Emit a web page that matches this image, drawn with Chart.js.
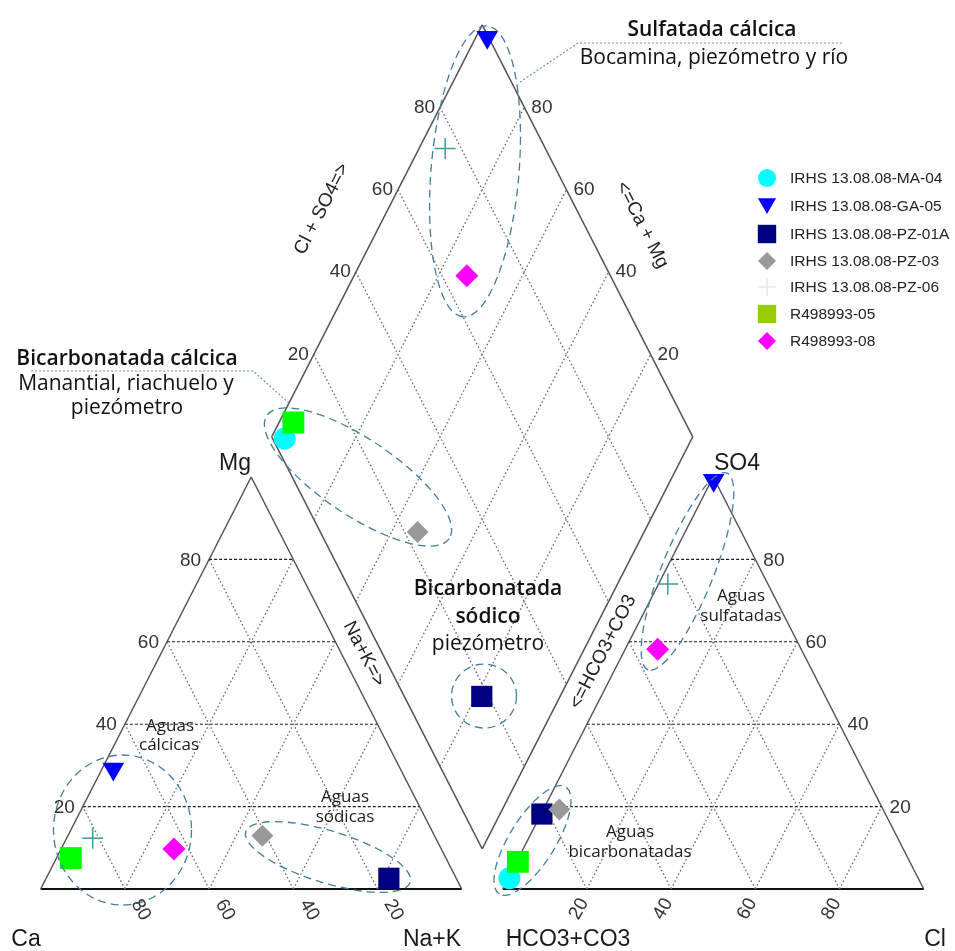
<!DOCTYPE html>
<html>
<head>
<meta charset="utf-8">
<script src="https://cdn.jsdelivr.net/npm/chart.js@4.4.1/dist/chart.umd.min.js"></script>
<style>
  html, body { margin: 0; padding: 0; background: #ffffff; }
  #wrap { position: relative; width: 955px; height: 951px; }
</style>
</head>
<body>
<div id="wrap"><canvas id="piper" width="955" height="951"></canvas></div>
<script>
// ---- Samples (percent of meq/L) ----
const SAMPLE_NAMES = ['IRHS 13.08.08-MA-04', 'IRHS 13.08.08-GA-05', 'IRHS 13.08.08-PZ-01A',
                      'IRHS 13.08.08-PZ-03', 'IRHS 13.08.08-PZ-06', 'R498993-05', 'R498993-08'];
// cations
const CA   = [89.3, 68.2, 16.0, 40.9, 81.5, 89.1, 63.5];
const MG   = [ 7.4, 29.1,  2.6, 12.9, 12.3,  7.5,  9.7];
const NAK  = [ 3.3,  2.7, 81.4, 46.2,  6.2,  3.4, 26.8];
// anions
const HCO3 = [97.1,  0.3, 81.6, 76.9, 23.8, 93.1, 34.1];
const SO4  = [ 2.6, 99.2, 18.2, 19.3, 74.0,  6.6, 58.2];
const CL   = [ 0.3,  0.5,  0.2,  3.8,  2.2,  0.3,  7.7];
// grid levels and their labels
const GRID_STEPS  = [20, 40, 60, 80];
const TICK_LABELS = ['20', '40', '60', '80'];

// ---- Piper geometry (triangle side = 100 units, height = 100 units) ----
const GAP = 9.74;                 // space between the two triangles
const OFF = 100 + GAP;            // x offset of the anion triangle
const LX = 50 + GAP / 2, LY = 100 + GAP;   // left vertex of the diamond

function cation(ca, mg, nak) { const s = ca + mg + nak; return { x: (nak + mg / 2) * 100 / s, y: mg * 100 / s }; }
function anion(hco3, so4, cl) { const s = hco3 + so4 + cl; return { x: OFF + (cl + so4 / 2) * 100 / s, y: so4 * 100 / s }; }
// a = Na+K %, b = SO4+Cl %
function diamond(a, b) { return { x: LX + (a + b) / 2, y: LY + b - a }; }

// ---- Marker styles ----
const MARKERS = [
  { style: 'circle',  r: 11,   rot: 0,   fill: '#00ffff' },
  { style: 'triangle', r: 12.5, rot: 180, fill: '#0000ff' },
  { style: 'rect',    r: 15,   rot: 0,   fill: '#000080' },
  { style: 'rectRot', r: 11,   rot: 0,   fill: '#999999' },
  { style: 'cross',   r: 10.5, rot: 0,   fill: 'rgba(0,0,0,0)', stroke: '#3a9c9c', bw: 1.5 },
  { style: 'rect',    r: 15.5, rot: 0,   fill: '#00ff00' },
  { style: 'rectRot', r: 11.5, rot: 0,   fill: '#ff00ff' }
];
const LEGEND_MARKERS = [
  { style: 'circle',  r: 9,   rot: 0,   fill: '#00ffff' },
  { style: 'triangle', r: 10.5, rot: 180, fill: '#0000ff' },
  { style: 'rect',    r: 13,  rot: 0,   fill: '#000080' },
  { style: 'rectRot', r: 9,   rot: 0,   fill: '#999999' },
  { style: 'cross',   r: 9,   rot: 0,   fill: 'rgba(0,0,0,0)', stroke: '#f0d6e4', bw: 1.2 },
  { style: 'rect',    r: 13,  rot: 0,   fill: '#99cc00' },
  { style: 'rectRot', r: 9,   rot: 0,   fill: '#ff00ff' }
];

// ---- Line helpers ----
function lineSet(segments, color, width, dash) {
  const data = [];
  segments.forEach(([p, q]) => { data.push(p, q, { x: NaN, y: NaN }); });
  return {
    data, showLine: true, pointRadius: 0, pointHoverRadius: 0, borderColor: color,
    borderWidth: width, borderDash: dash, backgroundColor: color, spanGaps: false,
    tension: 0, clip: false, order: 100
  };
}

const datasets = [];
const horiz = [], oblique = [], diamondGrid = [];
GRID_STEPS.forEach(t => {
  horiz.push([cation(100 - t, t, 0), cation(0, t, 100 - t)]);
  horiz.push([anion(100 - t, t, 0), anion(0, t, 100 - t)]);
  oblique.push([cation(100 - t, 0, t), cation(0, 100 - t, t)]);
  oblique.push([cation(t, 0, 100 - t), cation(t, 100 - t, 0)]);
  oblique.push([anion(100 - t, 0, t), anion(0, 100 - t, t)]);
  oblique.push([anion(t, 0, 100 - t), anion(t, 100 - t, 0)]);
  diamondGrid.push([diamond(t, 0), diamond(t, 100)]);
  diamondGrid.push([diamond(0, t), diamond(100, t)]);
});
datasets.push(lineSet(oblique, '#666666', 1.3, [1.5, 2.5]));
datasets.push(lineSet(diamondGrid, '#666666', 1.3, [1.5, 2.5]));
datasets.push(lineSet(horiz, '#1e1e1e', 1.1, [3, 2]));
// outlines
datasets.push(lineSet([
  [cation(100, 0, 0), cation(0, 100, 0)], [cation(0, 100, 0), cation(0, 0, 100)],
  [anion(100, 0, 0), anion(0, 100, 0)], [anion(0, 100, 0), anion(0, 0, 100)],
  [diamond(0, 0), diamond(0, 100)], [diamond(0, 100), diamond(100, 100)],
  [diamond(100, 100), diamond(100, 0)], [diamond(100, 0), diamond(0, 0)]
], '#555555', 1.5, []));
datasets.push(lineSet([
  [cation(100, 0, 0), cation(0, 0, 100)], [anion(100, 0, 0), anion(0, 0, 100)]
], '#111111', 2, []));

// samples: one point in each of the three fields
SAMPLE_NAMES.forEach((name, i) => {
  const m = MARKERS[i];
  datasets.push({
    label: name,
    data: [cation(CA[i], MG[i], NAK[i]), anion(HCO3[i], SO4[i], CL[i]), diamond(NAK[i], SO4[i] + CL[i])],
    pointStyle: m.style, pointRadius: m.r, pointHoverRadius: m.r, pointRotation: m.rot,
    backgroundColor: m.fill, borderColor: m.stroke || m.fill, borderWidth: m.bw || 0,
    showLine: false, clip: false, order: 10 - i
  });
});

// ---- Group outlines (diagram units) and callouts ----
const GROUPS = [
  { cx: 103.16, cy: 174.19, rx: 146, ry: 44, rot: 94.7 },
  { cx: 75.37,  cy: 100.0,  rx: 110, ry: 38, rot: 34 },
  { cx: 105.3,  cy: 46.84,  rx: 32.5, ry: 32, rot: 0 },
  { cx: 19.43,  cy: 14.32,  rx: 69,  ry: 75, rot: 0 },
  { cx: 68.24,  cy: 7.77,   rx: 86,  ry: 26, rot: 17 },
  { cx: 153.63, cy: 77.06,  rx: 106, ry: 26, rot: 111.9 },
  { cx: 116.82, cy: 11.77,  rx: 63,  ry: 23, rot: 121.8 }
];
const LEADERS = [
  [{ x: 113.85, y: 195.87 }, { x: 127.63, y: 205.34 }, { x: 190.57, y: 205.34 }],
  [{ x: 58.98, y: 117.96 }, { x: 50.43, y: 125.73 }, { x: -2.54, y: 125.73 }]
];

function drawMarker(ctx, m, x, y) {
  const r = m.r, rad = (m.rot || 0) * Math.PI / 180;
  ctx.save();
  ctx.fillStyle = m.fill;
  ctx.strokeStyle = m.stroke || m.fill;
  ctx.lineWidth = m.bw || 0;
  ctx.beginPath();
  if (m.style === 'circle') {
    ctx.arc(x, y, r, 0, Math.PI * 2);
    ctx.fill();
  } else if (m.style === 'triangle') {
    for (let k = 0; k < 3; k++) {
      const a = rad + k * 2 * Math.PI / 3;
      const px = x + Math.sin(a) * r, py = y - Math.cos(a) * r;
      if (k === 0) ctx.moveTo(px, py); else ctx.lineTo(px, py);
    }
    ctx.closePath(); ctx.fill();
  } else if (m.style === 'rect') {
    const s = r * Math.SQRT1_2;
    ctx.rect(x - s, y - s, 2 * s, 2 * s); ctx.fill();
  } else if (m.style === 'rectRot') {
    ctx.moveTo(x, y - r); ctx.lineTo(x + r, y); ctx.lineTo(x, y + r); ctx.lineTo(x - r, y);
    ctx.closePath(); ctx.fill();
  } else if (m.style === 'cross') {
    ctx.moveTo(x - r, y); ctx.lineTo(x + r, y); ctx.moveTo(x, y - r); ctx.lineTo(x, y + r);
    ctx.stroke();
  }
  ctx.restore();
}

const piperDecor = {
  id: 'piperDecor',
  afterDraw(chart) {
    const ctx = chart.ctx;
    const xs = chart.scales.x, ys = chart.scales.y;
    const P = p => ({ x: xs.getPixelForValue(p.x), y: ys.getPixelForValue(p.y) });
    const text = (s, x, y, align) => { ctx.textAlign = align || 'center'; ctx.fillText(s, x, y); };
    const rotText = (s, x, y, ang) => {
      ctx.save(); ctx.translate(x, y); ctx.rotate(ang); ctx.textAlign = 'center'; ctx.fillText(s, 0, 0); ctx.restore();
    };
    ctx.save();

    // group outlines
    ctx.strokeStyle = '#3f7f9c';
    ctx.lineWidth = 1.3;
    ctx.setLineDash([8, 5]);
    GROUPS.forEach(g => {
      const c = P({ x: g.cx, y: g.cy });
      ctx.beginPath();
      ctx.ellipse(c.x, c.y, g.rx, g.ry, g.rot * Math.PI / 180, 0, Math.PI * 2);
      ctx.stroke();
    });
    // callout leaders
    ctx.strokeStyle = '#5a93ad';
    ctx.lineWidth = 1.1;
    ctx.setLineDash([2, 2]);
    LEADERS.forEach(path => {
      ctx.beginPath();
      path.forEach((p, k) => { const q = P(p); if (k === 0) ctx.moveTo(q.x, q.y); else ctx.lineTo(q.x, q.y); });
      ctx.stroke();
    });
    ctx.setLineDash([]);

    // tick labels
    ctx.textBaseline = 'middle';
    ctx.font = '19px "Liberation Sans", Arial, sans-serif';
    ctx.fillStyle = '#333333';
    GRID_STEPS.forEach((t, i) => {
      const lab = TICK_LABELS[i];
      let p = P(cation(100 - t, t, 0)); text(lab, p.x - 8, p.y + 1, 'right');
      p = P(anion(0, t, 100 - t)); text(lab, p.x + 8, p.y + 1, 'left');
      p = P(diamond(0, t)); text(lab, p.x - 5, p.y, 'right');
      p = P(diamond(100 - t, 100)); text(lab, p.x + 7, p.y, 'left');
      p = P(cation(t, 0, 100 - t)); rotText(lab, p.x + 16, p.y + 21, Math.PI / 3);
      p = P(anion(100 - t, 0, t)); rotText(lab, p.x - 8, p.y + 20, -Math.PI / 3);
    });

    // axis titles along the diamond
    ctx.fillStyle = '#222222';
    ctx.font = '19px "Liberation Sans", Arial, sans-serif';
    const edgeAng = Math.atan2(ys.getPixelForValue(0) - ys.getPixelForValue(100),
                               xs.getPixelForValue(50) - xs.getPixelForValue(0));
    rotText('Cl + SO4=>', 322, 209, -edgeAng);
    rotText('<=Ca + Mg', 642, 225, edgeAng);
    rotText('Na+K=>', 364, 654, edgeAng);
    rotText('<=HCO3+CO3', 603, 652, -edgeAng);

    // corner labels
    ctx.font = '23px "Liberation Sans", Arial, sans-serif';
    ctx.fillStyle = '#1a1a1a';
    text('Mg', 235, 464);
    text('SO4', 737, 464);
    text('Ca', 26, 940);
    text('Na+K', 432, 940);
    text('HCO3+CO3', 568, 940);
    text('Cl', 935, 940);

    // water-type notes
    ctx.font = '17px "Open Sans", sans-serif';
    ctx.fillStyle = '#1a1a1a';
    text('Aguas', 170, 726); text('cálcicas', 169, 745);
    text('Aguas', 345, 797); text('sódicas', 345, 817);
    text('Aguas', 741, 596); text('sulfatadas', 741, 616);
    text('Aguas', 630, 832); text('bicarbonatadas', 630, 852);

    // callout texts
    ctx.textBaseline = 'alphabetic';
    ctx.fillStyle = '#111111';
    ctx.font = '600 21px "Open Sans", sans-serif';
    text('Sulfatada cálcica', 712, 36);
    text('Bicarbonatada cálcica', 127, 365);
    text('Bicarbonatada', 488, 595);
    text('sódico', 488, 623);
    ctx.font = '21px "Open Sans", sans-serif';
    text('Bocamina, piezómetro y río', 714, 64);
    text('Manantial, riachuelo y', 126, 390);
    text('piezómetro', 127, 414);
    text('piezómetro', 488, 650);

    // legend
    const rows = [178, 206, 234, 261, 287, 314, 341];
    ctx.font = '15.5px "Liberation Sans", Arial, sans-serif';
    ctx.textBaseline = 'middle';
    SAMPLE_NAMES.forEach((name, i) => {
      const m = LEGEND_MARKERS[i];
      const yOff = m.style === 'triangle' ? -2.5 : 0;
      drawMarker(ctx, m, 767, rows[i] + yOff);
      ctx.fillStyle = '#222222';
      text(name, 790, rows[i] + 1, 'left');
    });

    ctx.restore();
  }
};

// pixel mapping: 4.21 px per unit horizontally, 4.12 px per unit vertically
new Chart(document.getElementById('piper'), {
  type: 'scatter',
  data: { datasets },
  options: {
    responsive: false,
    animation: false,
    events: [],
    layout: { padding: 0, autoPadding: false },
    plugins: { legend: { display: false }, tooltip: { enabled: false }, title: { display: false } },
    scales: {
      x: { type: 'linear', display: false, bounds: 'data', min: -9.667, max: 217.17 },
      y: { type: 'linear', display: false, bounds: 'data', min: -15.05, max: 215.78 }
    }
  },
  plugins: [piperDecor]
});
</script>
</body>
</html>
